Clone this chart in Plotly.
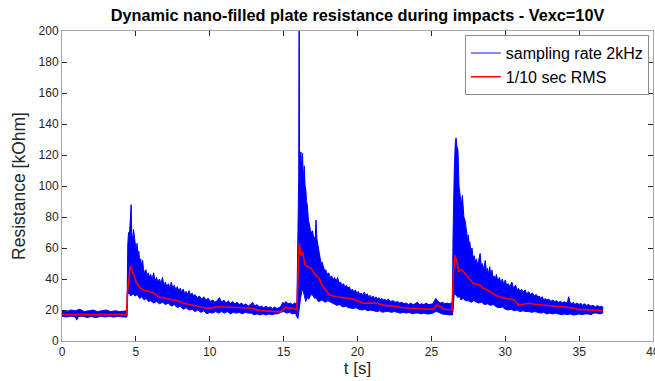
import plotly.graph_objects as go

# ---------------- data ----------------
# upper envelope of the 2 kHz signal (t [s], R [kOhm])
hi_t = [0, 0.3, 0.6, 0.9, 1.2, 1.5, 1.8, 2.1, 2.4, 2.7, 3.0, 3.3, 3.6, 3.9, 4.2, 4.40,
        4.45, 4.5, 4.55, 4.6, 4.64, 4.68, 4.72, 4.78, 4.84, 4.9, 4.96, 5.02, 5.08, 5.14,
        5.2, 5.26, 5.32, 5.4, 5.46, 5.52, 5.6, 5.68, 5.76, 5.84, 5.92, 6.0, 6.1, 6.2,
        6.3, 6.4, 6.5, 6.6, 6.7, 6.8, 6.9, 7.0, 7.1, 7.2, 7.3, 7.4, 7.5, 7.6, 7.7, 7.8,
        7.9, 8.0, 8.1, 8.2, 8.3, 8.4, 8.5, 8.6, 8.7, 8.8, 8.9, 9.0, 9.15, 9.3, 9.45, 9.6,
        9.75, 9.9, 10.05, 10.2, 10.35, 10.5, 10.65, 10.8, 10.95, 11.1, 11.25, 11.4, 11.55,
        11.7, 11.85, 12.0, 12.15, 12.3, 12.45, 12.6, 12.75, 12.9, 13.05, 13.2, 13.35, 13.5,
        13.65, 13.8, 13.95, 14.1, 14.25, 14.4, 14.55, 14.7, 14.85, 14.95, 15.05, 15.15,
        15.3, 15.45, 15.6, 15.75, 15.9,
        15.97, 16.02, 16.05, 16.08, 16.13, 16.17, 16.22, 16.28, 16.33, 16.4, 16.45, 16.5,
        16.55, 16.6, 16.68, 16.75, 16.85, 16.96, 17.05, 17.15, 17.19, 17.25, 17.35, 17.4,
        17.5, 17.55, 17.6, 17.7, 17.78, 17.85, 17.95, 18.05, 18.15, 18.25, 18.35, 18.45,
        18.55, 18.65, 18.75, 18.85, 18.95, 19.05, 19.15, 19.25, 19.35, 19.45, 19.55, 19.65,
        19.75, 19.85, 19.95, 20.05, 20.15, 20.25, 20.35, 20.45, 20.55, 20.65, 20.75, 20.85,
        20.95, 21.05, 21.15, 21.25, 21.35, 21.45, 21.55, 21.65, 21.75, 21.85, 21.95, 22.1,
        22.25, 22.4, 22.55, 22.7, 22.85, 23.0, 23.15, 23.3, 23.45, 23.6, 23.75, 23.9,
        24.05, 24.2, 24.35, 24.5, 24.65, 24.8, 24.95, 25.1, 25.2, 25.3, 25.4, 25.5, 25.6,
        25.75, 25.9, 26.05, 26.2, 26.35, 26.42,
        26.47, 26.5, 26.55, 26.62, 26.67, 26.72, 26.8, 26.87, 26.94, 27.02, 27.1, 27.2,
        27.3, 27.4, 27.45, 27.5, 27.55, 27.6, 27.68, 27.75, 27.82, 27.9, 27.98, 28.05,
        28.12, 28.2, 28.3, 28.38, 28.45, 28.55, 28.65, 28.72, 28.8, 28.88, 28.95, 29.02,
        29.1, 29.18, 29.25, 29.32, 29.4, 29.5, 29.6, 29.7, 29.8, 29.9, 30.0, 30.1, 30.2,
        30.3, 30.45, 30.55, 30.7, 30.8, 30.9, 31.0, 31.1, 31.2, 31.35, 31.45, 31.6, 31.7,
        31.85, 31.95, 32.1, 32.2, 32.3, 32.4, 32.5, 32.6, 32.7, 32.8, 32.95, 33.1, 33.2,
        33.35, 33.5, 33.6, 33.75, 33.9, 34.0, 34.1, 34.2, 34.3, 34.38, 34.5, 34.6, 34.7,
        34.85, 35.0, 35.1, 35.2, 35.35, 35.5, 35.65, 35.8, 35.95, 36.1, 36.25, 36.35, 36.5,
        36.6]
hi_r = [19.5, 19, 20, 19.5, 20.5, 19, 19.5, 20, 19, 19.5, 20, 19, 19.5, 19, 19.5, 19.5,
        62, 70, 66, 76, 88, 88, 70, 64, 72, 66, 60, 58, 63, 55,
        58, 51, 53, 48, 52, 46, 44, 46, 42, 44, 41, 43, 40, 44,
        39, 41, 38, 40, 37, 41, 36, 38, 35, 37, 34.5, 38, 34, 36, 33, 35,
        32.5, 34, 31.5, 33.5, 30.5, 32, 30, 32.5, 29.5, 31, 29, 30, 28, 29, 27, 28.5,
        26.5, 27.5, 25.5, 26.5, 25, 26, 28, 25, 26.5, 24.5, 26, 24, 25.5,
        24, 25, 23.5, 24.5, 23, 24, 22.5, 23.5, 25, 22.5, 23.5, 22, 22.5,
        21.5, 22.5, 21.5, 22, 21, 22, 21, 21.5, 23, 25, 24, 25.5,
        24, 24.5, 23.5, 24.5, 24,
        90, 105, 230, 110, 118, 122, 112, 121, 105, 113, 100, 98,
        90, 88, 78, 75, 70, 71, 65, 68, 78, 66, 60, 57,
        52, 49, 51, 47, 45, 46, 43, 44, 41, 42, 39.5, 41,
        38.5, 41, 37.5, 38, 36, 37, 35, 36, 34, 35, 32.5, 33.5,
        31.5, 33, 31, 32, 30, 31, 29.5, 31.5, 29.5, 30.5, 28.5, 29.5,
        28, 29, 27.5, 28.5, 27, 28, 26.5, 27.5, 26.5, 27, 26, 27,
        25.5, 26, 25, 25.5, 24.5, 25, 24, 24.5, 23.5, 24.5, 23.5, 24,
        25, 23.5, 24, 23.5, 24.5, 23.5, 24, 24, 26, 27.5, 26, 25, 24.5,
        25, 24, 24.5, 24, 24.5, 24.5,
        70, 94, 110, 128, 131, 126, 123, 100, 93, 88, 94, 80,
        77, 70, 65, 68.5, 62, 64, 58, 60, 54, 55, 51, 53,
        49, 52, 56.5, 48, 50, 46, 52, 45, 47, 43, 48, 42,
        45.8, 41, 42, 39.5, 43, 38.5, 41, 37.5, 40, 36.5, 39.4, 35.5, 37,
        35, 38, 34, 36, 33, 34, 32, 33.5, 31.5, 33, 30.5, 31.8, 30,
        31, 29, 30, 28.5, 29, 27.5, 28.6, 26.5, 27.5, 26.5, 27, 25.5, 26.5,
        25.5, 26, 25, 25.5, 24.5, 25.5, 24.5, 25, 28.6, 25, 24, 25, 23.5,
        24.5, 23.5, 24.5, 23, 24, 23, 23.5, 22.5, 23, 22, 23, 22, 22.5,
        22]

# lower envelope of the 2 kHz signal
lo_t = [0, 0.3, 0.6, 0.9, 1.0, 1.1, 1.4, 1.7, 2.0, 2.3, 2.6, 2.9, 3.2, 3.5, 3.8, 4.1, 4.40,
        4.45, 4.55, 4.65, 4.8, 4.95, 5.1, 5.25, 5.4, 5.55, 5.7, 5.85, 6.0, 6.2, 6.4, 6.6,
        6.8, 7.0, 7.2, 7.4, 7.6, 7.8, 8.0, 8.2, 8.4, 8.6, 8.8, 9.0, 9.2, 9.4, 9.6, 9.8,
        10.0, 10.2, 10.4, 10.6, 10.8, 11.0, 11.2, 11.4, 11.6, 11.8, 12.0, 12.2, 12.4, 12.6,
        12.8, 13.0, 13.2, 13.4, 13.6, 13.8, 14.0, 14.2, 14.4, 14.6, 14.8, 15.0, 15.2, 15.4,
        15.6, 15.8, 15.9,
        15.97, 16.05, 16.15, 16.28, 16.4, 16.5, 16.6, 16.7, 16.85, 16.96, 17.1, 17.2, 17.3,
        17.4, 17.6, 17.8, 18.0, 18.2, 18.4, 18.6, 18.8, 19.0, 19.2, 19.4, 19.7, 19.9, 20.1,
        20.3, 20.5, 20.7, 20.9, 21.1, 21.3, 21.5, 21.7, 21.9, 22.1, 22.3, 22.5, 22.7, 22.9,
        23.1, 23.3, 23.5, 23.7, 23.9, 24.1, 24.3, 24.5, 24.7, 24.9, 25.1, 25.3, 25.5, 25.7,
        25.9, 26.1, 26.3, 26.42,
        26.47, 26.55, 26.65, 26.8, 26.9, 27.0, 27.15, 27.3, 27.5, 27.7, 27.85, 28.0, 28.2,
        28.4, 28.6, 28.8, 29.0, 29.2, 29.4, 29.6, 29.8, 30.0, 30.2, 30.4, 30.6, 30.8, 31.0,
        31.2, 31.4, 31.6, 31.8, 32.0, 32.2, 32.4, 32.6, 32.8, 33.0, 33.2, 33.4, 33.6, 33.8,
        34.0, 34.2, 34.4, 34.6, 34.8, 35.0, 35.2, 35.4, 35.6, 35.8, 36.0, 36.2, 36.4, 36.6]
lo_r = [16, 15.5, 16, 15.5, 13.5, 15.8, 16, 15.2, 15.8, 15, 16, 15.5, 16, 15.4, 16, 15.5, 15.5,
        30, 31, 29, 30.5, 29, 30, 27.5, 28.5, 26.5, 27.5, 25.5, 26, 24.5, 25.5, 24,
        25, 23.5, 24.5, 22.5, 23.5, 21.5, 22.5, 20.5, 21.5, 20, 20.5, 19, 20, 18.5, 19.5, 17.5,
        18.5, 18, 19, 18, 19, 18, 19, 17.5, 18.5, 18, 18.5, 17.5, 18.5, 18,
        18, 17, 17.5, 16.8, 17.5, 16.8, 17.5, 17, 17.5, 17.5, 18.5, 19, 18, 18.5,
        17.5, 18, 15.5,
        14.5, 20, 28, 34, 30, 25.5, 28, 27, 30, 29.5, 27.5, 28, 26,
        25.5, 26.5, 25, 26, 24.5, 24, 23, 23.5, 22, 22.5, 21.5, 21, 21.5, 20.5,
        20, 20.5, 19.5, 20, 19.5, 19, 19.5, 18.5, 19, 19, 18.5, 19, 18.5, 18,
        18.5, 18, 18.5, 17.5, 18, 18, 17.5, 18, 17.5, 17.5, 18, 19, 18.5, 17.5,
        17.5, 17, 16.8, 16.8,
        20, 31, 30, 28, 29, 26.5, 27.5, 26, 26, 25, 26, 25.4, 24.5,
        25, 23.5, 24, 23, 23.5, 22, 21.5, 22, 20.5, 20, 20.5, 19.5, 20, 19,
        19.5, 19, 19, 18.5, 19, 18.5, 18, 18.5, 17.5, 18, 17.5, 18, 17.5, 17,
        17.5, 17, 17.5, 16.8, 17, 17.5, 17, 17.5, 17.5, 17, 18, 18, 17.5, 18]

# 1/10 s RMS
rms_t = [0, 4.38, 4.42, 4.55, 4.62, 4.8, 5.05, 5.3, 5.6, 5.95, 6.2, 6.5, 7.1, 7.5, 7.8,
         8.2, 8.7, 9.2, 9.6, 10.0, 10.5, 11.0, 11.6, 12.2, 12.8, 13.1, 13.4, 14.0, 14.6,
         14.8, 15.1, 15.4, 15.7, 15.9, 15.97, 16.05, 16.17, 16.28, 16.46, 16.6, 16.85,
         17.07, 17.4, 17.65, 17.85, 18.1, 18.55, 19.0, 19.35, 19.7, 20.0, 20.4, 20.8,
         21.3, 21.95, 22.5, 23.1, 23.8, 24.4, 25.0, 25.2, 25.35, 25.6, 25.8, 26.1, 26.4,
         26.47, 26.6, 26.75, 26.85, 27.05, 27.3, 27.6, 27.85, 28.3, 28.5, 28.65, 29.0,
         29.3, 29.6, 30.0, 30.3, 30.6, 30.9, 31.2, 31.6, 32.0, 32.5, 33.0, 33.6, 34.0,
         34.3, 35.0, 35.5, 36.0, 36.6]
rms_r = [17, 17, 30, 46, 48.4, 44, 37.4, 34, 32.5, 31.8, 31, 28.6, 27.5, 26.8, 26,
         24.5, 23.2, 22.3, 21.5, 21.2, 22.1, 22, 21.5, 21.5, 21.1, 20.5, 19.6, 19.2, 18.7,
         18.8, 21.7, 21.5, 21, 20, 45, 63, 55, 57.6, 49, 48, 47,
         43.7, 40.4, 35, 33, 29.7, 28.6, 28, 27.5, 27, 26, 24.3, 24.5,
         24.3, 22.8, 22.5, 21.5, 21, 20.8, 20.5, 21, 23.2, 22.5, 20.6, 20.3, 20,
         40, 55.5, 50, 44.7, 46, 43, 39.4, 37, 36, 34, 33.5, 31.8,
         29.7, 28.5, 27.5, 27, 26.5, 23.2, 23.8, 24.3, 23.7, 23.2, 22.6, 22.1, 21.8,
         21.6, 20.4, 20.2, 20, 19.6]

x_ticks = [0, 5, 10, 15, 20, 25, 30, 35, 40]
y_ticks = [0, 20, 40, 60, 80, 100, 120, 140, 160, 180, 200]

assert len(hi_t) == len(hi_r), (len(hi_t), len(hi_r))
assert len(lo_t) == len(lo_r), (len(lo_t), len(lo_r))
assert len(rms_t) == len(rms_r), (len(rms_t), len(rms_r))

BLUE = "#0000FF"
RED = "#FF0000"
AX = "#262626"
FONT = "Liberation Sans, Arial, sans-serif"

fig = go.Figure()

# blue band (signal envelope) drawn as a closed shape
fig.add_trace(go.Scatter(
    x=hi_t + lo_t[::-1], y=hi_r + lo_r[::-1],
    mode="lines", fill="toself", fillcolor=BLUE,
    line=dict(color=BLUE, width=1), showlegend=False, hoverinfo="skip"))

fig.add_trace(go.Scatter(
    x=rms_t, y=rms_r, mode="lines", line=dict(color=RED, width=1.6),
    showlegend=False))

# legend entries
fig.add_trace(go.Scatter(x=[None], y=[None], mode="lines",
                         line=dict(color="#6060ff", width=1.5), name="sampling rate 2kHz"))
fig.add_trace(go.Scatter(x=[None], y=[None], mode="lines",
                         line=dict(color=RED, width=1.5), name="1/10 sec RMS"))

axis_common = dict(
    showline=True, linecolor="#a6a6a6", linewidth=1, mirror="ticks",
    ticks="inside", ticklen=5, tickcolor=AX, tickwidth=1,
    showgrid=False, zeroline=False, automargin=False,
    ticklabeloverflow="allow",
    tickfont=dict(family=FONT, size=12, color=AX),
)

fig.update_layout(
    width=655, height=381,
    margin=dict(l=62, r=2, t=31, b=40),
    paper_bgcolor="white", plot_bgcolor="white",
    font=dict(family=FONT, color=AX),
    title=dict(text="<b>Dynamic nano-filled plate resistance during impacts - Vexc=10V</b>",
               x=(62 + 653) / 2 / 655, xanchor="center", y=1 - 15 / 381, yanchor="middle",
               font=dict(family=FONT, size=16.3, color="black")),
    xaxis=dict(range=[0, 40], tickvals=x_ticks, ticktext=[str(v) for v in x_ticks],
               title=dict(text="t [s]", font=dict(family=FONT, size=17, color=AX), standoff=2),
               **axis_common),
    yaxis=dict(range=[0, 200], tickvals=y_ticks, ticktext=[str(v) for v in y_ticks],
               title=dict(text="Resistance [kOhm]", font=dict(family=FONT, size=17.5, color=AX),
                          standoff=8),
               **axis_common),
    legend=dict(x=0.993, xanchor="right", y=0.987, yanchor="top",
                bgcolor="white", bordercolor="#8c8c8c", borderwidth=1,
                font=dict(family=FONT, size=16, color="black"),
                tracegroupgap=0, itemwidth=30),
    showlegend=True,
)

fig.write_html("out.html",
               config={"displayModeBar": False},
               post_script="document.body.style.margin='0';document.body.style.padding='0';")
